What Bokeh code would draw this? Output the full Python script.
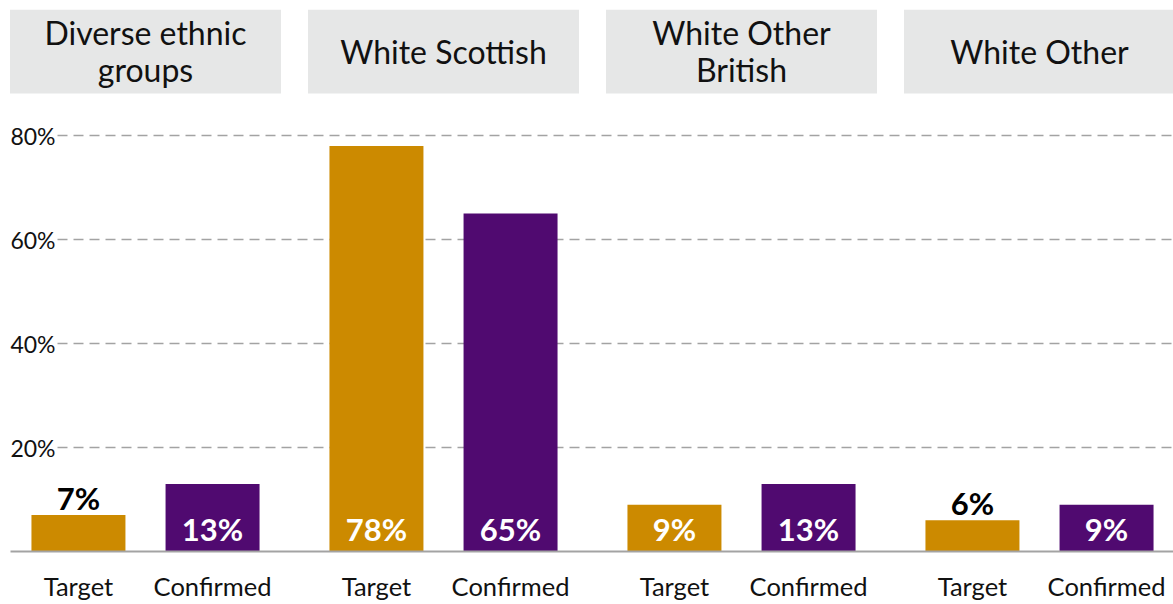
from bokeh.plotting import figure
from bokeh.models import ColumnDataSource, Range1d
from bokeh.core.properties import value
from bokeh.embed import file_html
from bokeh.resources import INLINE

# ---- data ----
groups = ["Diverse ethnic\ngroups", "White Scottish", "White Other\nBritish", "White Other"]
measures = ["Target", "Confirmed"]
target = [7, 78, 9, 6]
confirmed = [13, 65, 13, 9]
y_ticks = [20, 40, 60, 80]
tick_labels = ["20%", "40%", "60%", "80%"]

# ---- style ----
FONT = "Lato"
GOLD = "#CC8A00"
PURPLE = "#500A70"
STRIP = "#E6E7E7"
GRID = "#A3A3A3"

W, H = 1173, 604
PX = 298.0            # pixels per facet
X_OFF = 145.0         # pixel centre of first facet
YS = 5.2              # pixels per percentage point
BASE = 551.0          # pixel row of 0%

x_lo = -X_OFF / PX
x_hi = (W - X_OFF) / PX
y_lo = -(H - BASE) / YS
y_hi = BASE / YS

p = figure(width=W, height=H, x_range=Range1d(x_lo, x_hi), y_range=Range1d(y_lo, y_hi),
           output_backend="svg", toolbar_location=None, min_border=0)
p.axis.visible = False
p.grid.visible = False
p.outline_line_color = None
p.background_fill_color = "white"
p.border_fill_color = "white"

n = len(groups)
centres = list(range(n))
off = 0.225
bw = 0.3154

# facet strips
strip_w = 0.9094
p.quad(left=[c - strip_w / 2 for c in centres], right=[c + strip_w / 2 for c in centres],
       bottom=88.1, top=104.2, fill_color=STRIP, line_color=None)
p.text(x=centres, y=[96.2] * n, text=groups, text_font=value(FONT), text_font_size="32px",
       text_align="center", text_baseline="middle", text_color="#111111", text_line_height=0.95)

# gridlines
grid_left = (57 - X_OFF) / PX
p.segment(x0=[grid_left] * len(y_ticks), x1=[x_hi] * len(y_ticks), y0=y_ticks, y1=y_ticks,
          line_color=GRID, line_width=1.5, line_dash="10 6")
p.text(x=[(55 - X_OFF) / PX] * len(y_ticks), y=y_ticks, text=tick_labels, text_font=value(FONT),
       text_font_size="23px", text_align="right", text_baseline="middle", text_color="#111111")

# bars
bx, btop, bcol, bname = [], [], [], []
for i in range(n):
    bx += [centres[i] - off, centres[i] + off]
    btop += [target[i], confirmed[i]]
    bcol += [GOLD, PURPLE]
    bname += measures
src = ColumnDataSource(dict(x=bx, top=btop, color=bcol, name=bname,
                            label=[f"{v}%" for v in btop]))
p.vbar(x="x", top="top", bottom=0, width=bw, fill_color="color", line_color=None, source=src)

# baseline
p.segment(x0=[(10 - X_OFF) / PX], x1=[x_hi], y0=[0], y1=[0], line_color=GRID, line_width=2)

# value labels
inside = [v >= 8 for v in btop]
lab_y = [4.4 if ins else v + 3.3 for v, ins in zip(btop, inside)]
lab_c = ["white" if ins else "black" for ins in inside]
p.text(x=bx, y=lab_y, text=src.data["label"], text_color=lab_c, text_font=value(FONT),
       text_font_size="31px", text_font_style="bold", text_align="center", text_baseline="middle")

# category labels
p.text(x=bx, y=[-6.6] * len(bx), text=bname, text_font=value(FONT), text_font_size="25.5px",
       text_align="center", text_baseline="middle", text_color="#111111")

open("out.html", "w").write(file_html(p, INLINE))
